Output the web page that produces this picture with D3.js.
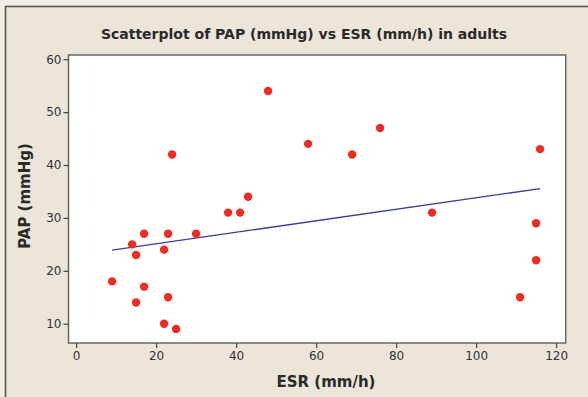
<!DOCTYPE html>
<html><head><meta charset="utf-8">
<script src="https://cdn.jsdelivr.net/npm/d3@7"></script>
<style>body{margin:0;background:#f1efe6;} svg{display:block;}</style>
</head><body>
<svg id="c" width="588" height="397"></svg>
<script>
const esr = [9,14,15,17,17,15,23,22,23,22,25,24,30,38,41,43,48,58,69,76,89,116,115,115,111];
const pap = [18,25,23,27,17,14,27,24,15,10,9,42,27,31,31,34,54,44,42,47,31,43,29,22,15];
const xTicks = [0,20,40,60,80,100,120];
const yTicks = [10,20,30,40,50,60];
const title = "Scatterplot of PAP (mmHg) vs ESR (mm/h) in adults";
const xLabel = "ESR (mm/h)";
const yLabel = "PAP (mmHg)";

const svg = d3.select("#c");
svg.append("rect").attr("x",0).attr("y",0).attr("width",588).attr("height",397).attr("fill","#f1efe6");
svg.append("rect").attr("x",5.5).attr("y",6.5).attr("width",600).attr("height",400)
  .attr("fill","#ebe5da").attr("stroke","#555").attr("stroke-width",1.6);

const L=68.5, R=565.7, T=55, B=343;
const x = d3.scaleLinear().domain([-1.9,122.4]).range([L,R]);
const y = d3.scaleLinear().domain([6.35,60.8]).range([B,T]);

svg.append("rect").attr("x",L).attr("y",T).attr("width",R-L).attr("height",B-T)
  .attr("fill","#fff").attr("stroke","#666").attr("stroke-width",1.5);

const font = "'DejaVu Sans', Verdana, sans-serif";
const xa = svg.append("g").attr("transform",`translate(0,${B})`)
  .call(d3.axisBottom(x).tickValues(xTicks).tickSize(5).tickPadding(3).tickSizeOuter(0));
const ya = svg.append("g").attr("transform",`translate(${L},0)`)
  .call(d3.axisLeft(y).tickValues(yTicks).tickSize(5).tickPadding(2).tickSizeOuter(0));
[xa,ya].forEach(a=>{
  a.select(".domain").remove();
  a.selectAll("line").attr("stroke","#444").attr("stroke-width",1.2);
  a.selectAll("text").attr("font-family",font).attr("font-size","12px").attr("fill","#333");
});

// regression
const n=esr.length, mx=d3.mean(esr), my=d3.mean(pap);
let sxy=0,sxx=0; for(let i=0;i<n;i++){sxy+=(esr[i]-mx)*(pap[i]-my);sxx+=(esr[i]-mx)**2;}
const b=sxy/sxx, a=my-b*mx;
const x0=d3.min(esr), x1=d3.max(esr);
svg.append("line").attr("x1",x(x0)).attr("y1",y(a+b*x0)).attr("x2",x(x1)).attr("y2",y(a+b*x1))
  .attr("stroke","#3a3a9a").attr("stroke-width",1.3);

svg.append("g").selectAll("circle").data(esr).join("circle")
  .attr("cx",(d)=>x(d)).attr("cy",(d,i)=>y(pap[i])).attr("r",4.2).attr("fill","#ee2b25");

svg.append("text").attr("x",304).attr("y",39).attr("text-anchor","middle")
  .attr("font-family",font).attr("font-weight","bold").attr("font-size","14px").attr("fill","#2a2a2a").text(title);
svg.append("text").attr("x",326).attr("y",387).attr("text-anchor","middle")
  .attr("font-family",font).attr("font-weight","bold").attr("font-size","15px").attr("fill","#2a2a2a").text(xLabel);
svg.append("text").attr("transform","translate(30,196) rotate(-90)").attr("text-anchor","middle")
  .attr("font-family",font).attr("font-weight","bold").attr("font-size","15px").attr("fill","#2a2a2a").text(yLabel);
</script>
</body></html>
